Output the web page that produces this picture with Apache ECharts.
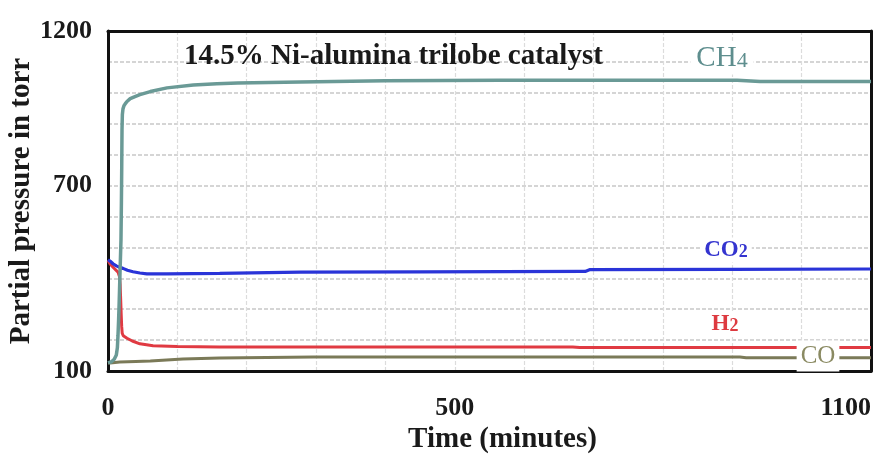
<!DOCTYPE html>
<html>
<head>
<meta charset="utf-8">
<script src="https://cdn.jsdelivr.net/npm/echarts@6/dist/echarts.min.js"></script>
<style>html,body{margin:0;padding:0;background:#fff}#c{width:879px;height:457px}</style>
</head>
<body>
<div id="c"></div>
<script>
// ---- data (time in minutes, partial pressure in torr) ----
var xTickLabels = [0, 500, 1100];
var yTickLabels = [100, 700, 1200];

var ch4 = [[0,126],[5,130],[9,138],[12,152],[13.5,175],[14.4,215],[15.2,260],[15.9,307],[16.6,360],[17.3,417],[18,470],[18.7,524],[19.3,640],[19.8,760],[20.2,880],[20.7,930],[21.6,948],[23,958],[25,965],[27.4,972],[32,981],[38,987],[46,994],[61,1004],[85,1016],[123,1025],[157,1029],[187,1032],[277,1035],[400,1039],[565,1041],[907,1041],[940,1037],[1100,1037]];
var co2 = [[0,460],[4,454],[7.2,447],[12,440],[16,436],[21.6,432],[28,426],[36,421],[46,417],[56,414],[85,414],[161,416],[277,420],[450,421],[688,422],[695,428],[900,429],[1100,430]];
var h2 = [[0,458],[3,446],[8,434],[14.4,420],[16.5,406],[17.5,380],[18.3,330],[19,285],[19.7,245],[20.5,222],[22,214],[24.5,210],[27.4,206],[35,197],[46,188],[65,182],[100,179],[161,178],[670,178],[680,176],[1100,176]];
var co = [[0,126],[3,126],[17,129],[40,131],[61,132],[108,139],[161,142],[296,145],[911,145],[920,143],[1100,143]];

var serif = '"Liberation Serif", "DejaVu Serif", serif';
var dark = '#1a1a1a';

var chart = echarts.init(document.getElementById('c'));
chart.setOption({
  animation: false,
  backgroundColor: '#ffffff',
  title: {
    text: '14.5% Ni-alumina trilobe catalyst',
    left: 179, top: 37,
    textStyle: { fontFamily: serif, fontWeight: 'bold', fontSize: 29, color: dark }
  },
  grid: {
    left: 108, right: 8, top: 31, bottom: 86,
    containLabel: false, outerBoundsMode: 'none'
  },
  xAxis: [{
    type: 'value', min: 0, max: 1100, interval: 100,
    name: 'Time (minutes)', nameLocation: 'middle', nameGap: 54, nameMoveOverlap: false,
    nameTextStyle: { fontFamily: serif, fontWeight: 'bold', fontSize: 29, color: dark, padding: [0,0,0,26] },
    axisLine: { show: true, lineStyle: { color: '#111', width: 3 } }, axisTick: { show: false },
    axisLabel: {
      margin: 24, fontFamily: serif, fontWeight: 'bold', fontSize: 26, color: dark,
      alignMaxLabel: 'right',
      formatter: function (v) { return xTickLabels.indexOf(v) >= 0 ? String(v) : ''; }
    },
    splitLine: { show: true, lineStyle: { color: '#dcdcdc', width: 1.2, type: [4, 2] } }
  }, {
    type: 'value', min: 0, max: 1100, position: 'top',
    axisLine: { show: true, onZero: false, lineStyle: { color: '#111', width: 3 } },
    axisTick: { show: false }, axisLabel: { show: false }, splitLine: { show: false }
  }],
  yAxis: [{
    type: 'value', min: 100, max: 1200, interval: 100,
    name: 'Partial pressure in torr', nameLocation: 'middle', nameGap: 72, nameMoveOverlap: false,
    nameTextStyle: { fontFamily: serif, fontWeight: 'bold', fontSize: 29, color: dark },
    axisLine: { show: true, onZero: false, lineStyle: { color: '#111', width: 3 } }, axisTick: { show: false },
    axisLabel: {
      margin: 16, fontFamily: serif, fontWeight: 'bold', fontSize: 26, color: dark,
      formatter: function (v) { return yTickLabels.indexOf(v) >= 0 ? String(v) : ''; }
    },
    splitLine: { show: true, lineStyle: { color: '#c8c8c8', width: 1.5, type: [4, 2] } }
  }, {
    type: 'value', min: 100, max: 1200, position: 'right',
    axisLine: { show: true, onZero: false, lineStyle: { color: '#111', width: 3 } },
    axisTick: { show: false }, axisLabel: { show: false }, splitLine: { show: false }
  }],
  graphic: [
    { type: 'text', x: 722, y: 58, z: 100,
      style: { text: '{a|CH}{b|4}', align: 'center', verticalAlign: 'middle', backgroundColor: '#fff', padding: [2, 6],
        rich: { a: { fontFamily: serif, fontSize: 29, fill: '#5e8e8e', verticalAlign: 'bottom' },
                b: { fontFamily: serif, fontSize: 22, fill: '#5e8e8e', verticalAlign: 'bottom' } } } },
    { type: 'text', x: 726, y: 250, z: 100,
      style: { text: '{a|CO}{b|2}', align: 'center', verticalAlign: 'middle', backgroundColor: '#fff', padding: [1, 4],
        rich: { a: { fontFamily: serif, fontSize: 23, fontWeight: 'bold', fill: '#3434cf', verticalAlign: 'bottom' },
                b: { fontFamily: serif, fontSize: 18, fontWeight: 'bold', fill: '#3434cf', verticalAlign: 'bottom' } } } },
    { type: 'text', x: 725, y: 324, z: 100,
      style: { text: '{a|H}{b|2}', align: 'center', verticalAlign: 'middle', backgroundColor: '#fff', padding: [1, 4],
        rich: { a: { fontFamily: serif, fontSize: 23, fontWeight: 'bold', fill: '#dd3a40', verticalAlign: 'bottom' },
                b: { fontFamily: serif, fontSize: 18, fontWeight: 'bold', fill: '#dd3a40', verticalAlign: 'bottom' } } } },
    { type: 'text', x: 818, y: 356, z: 100,
      style: { text: 'CO', align: 'center', verticalAlign: 'middle', backgroundColor: '#fff', padding: [4, 4, 2, 4],
        font: '25px ' + serif, fill: '#8a8a62' } }
  ],
  series: [
    { name: 'CO', type: 'line', data: co, showSymbol: false, lineStyle: { color: '#7b7a58', width: 3 }, z: 3 },
    { name: 'H2', type: 'line', data: h2, showSymbol: false, lineStyle: { color: '#e03a42', width: 3 }, z: 4 },
    { name: 'CO2', type: 'line', data: co2, showSymbol: false, lineStyle: { color: '#2a34d8', width: 3.2 }, z: 5 },
    { name: 'CH4', type: 'line', data: ch4, showSymbol: false, lineStyle: { color: '#6a9a96', width: 3.5 }, z: 6 }
  ]
});
</script>
</body>
</html>
